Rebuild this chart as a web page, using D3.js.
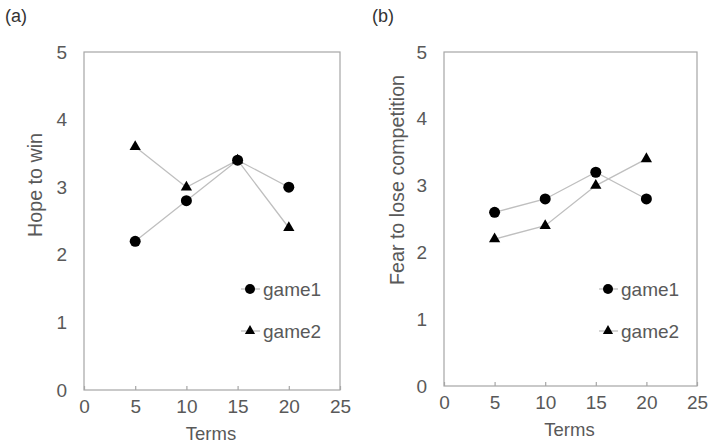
<!DOCTYPE html>
<html>
<head>
<meta charset="utf-8">
<script src="https://cdn.jsdelivr.net/npm/d3@7"></script>
<style>
  body { margin: 0; background: #fff; }
  svg { display: block; font-family: "Liberation Sans", Arial, sans-serif; }
</style>
</head>
<body>
<svg id="chart" width="709" height="447"></svg>
<script>
// Survey scores over terms, two games per panel
const terms = [5, 10, 15, 20];
const hopeGame1 = [2.2, 2.8, 3.4, 3.0];
const hopeGame2 = [3.6, 3.0, 3.4, 2.4];
const fearGame1 = [2.6, 2.8, 3.2, 2.8];
const fearGame2 = [2.2, 2.4, 3.0, 3.4];
const xTicks = [0, 5, 10, 15, 20, 25];
const yTicks = [0, 1, 2, 3, 4, 5];
const seriesNames = ["game1", "game2"];

const svg = d3.select("#chart");
const textColor = "#595959";
const frameColor = "#a6a6a6";
const lineColor = "#bfbfbf";
const fontFamily = "Liberation Sans, Arial, sans-serif";

function drawPanel(cfg) {
  const { tag, tagX, left, right, top, bottom, yTitle, yTitleX, yTitleY, s1, s2, legendX } = cfg;
  const x = d3.scaleLinear().domain([0, 25]).range([left, right]);
  const y = d3.scaleLinear().domain([0, 5]).range([bottom, top]);
  const g = svg.append("g");

  // panel tag
  g.append("text").attr("x", tagX).attr("y", 22)
    .attr("font-size", 18).attr("fill", "#333").text(tag);

  // plot frame
  g.append("rect").attr("x", left).attr("y", top)
    .attr("width", right - left).attr("height", bottom - top)
    .attr("fill", "none").attr("stroke", frameColor).attr("stroke-width", 1.2);

  // x axis: short inward ticks, labels below
  const xAxis = d3.axisBottom(x).tickValues(xTicks).tickFormat(d3.format("d"))
    .tickSizeInner(-4).tickSizeOuter(0).tickPadding(10);
  const xa = g.append("g").attr("transform", `translate(0,${bottom})`).call(xAxis);
  xa.select(".domain").remove();
  xa.selectAll(".tick line").attr("stroke", frameColor).attr("stroke-width", 1.2);
  xa.selectAll(".tick text").attr("font-size", 19).attr("fill", textColor)
    .attr("font-family", fontFamily);

  // y axis labels
  const yAxis = d3.axisLeft(y).tickValues(yTicks).tickFormat(d3.format("d"))
    .tickSizeInner(0).tickSizeOuter(0).tickPadding(17);
  const ya = g.append("g").attr("transform", `translate(${left},0)`).call(yAxis);
  ya.select(".domain").remove();
  ya.selectAll(".tick line").remove();
  ya.selectAll(".tick text").attr("font-size", 19).attr("fill", textColor)
    .attr("font-family", fontFamily);

  // axis titles
  g.append("text").attr("x", (left + right) / 2 - 1).attr("y", bottom + 50)
    .attr("text-anchor", "middle").attr("font-size", 18.5).attr("fill", textColor).text("Terms");
  g.append("text").attr("transform", `translate(${yTitleX},${yTitleY}) rotate(-90)`)
    .attr("text-anchor", "middle").attr("font-size", 19.7).attr("fill", textColor).text(yTitle);

  const line = d3.line().x((d, i) => x(terms[i])).y(d => y(d));
  [s1, s2].forEach(vals => {
    g.append("path").datum(vals).attr("d", line)
      .attr("fill", "none").attr("stroke", lineColor).attr("stroke-width", 1.3);
  });

  const tri = d3.symbol().type(d3.symbolTriangle).size(55);
  // circles (game1)
  g.selectAll(null).data(s1).enter().append("circle")
    .attr("cx", (d, i) => x(terms[i])).attr("cy", d => y(d)).attr("r", 5.5).attr("fill", "#000");
  // triangles (game2)
  g.selectAll(null).data(s2).enter().append("path")
    .attr("d", tri).attr("transform", (d, i) => `translate(${x(terms[i])},${y(d)})`).attr("fill", "#000");

  // legend
  const legY = [289, 331];
  seriesNames.forEach((name, k) => {
    const ly = legY[k];
    g.append("line").attr("x1", legendX - 9).attr("x2", legendX + 10)
      .attr("y1", ly).attr("y2", ly).attr("stroke", lineColor).attr("stroke-width", 1.3);
    if (k === 0) {
      g.append("circle").attr("cx", legendX).attr("cy", ly).attr("r", 5).attr("fill", "#000");
    } else {
      g.append("path").attr("d", d3.symbol().type(d3.symbolTriangle).size(45))
        .attr("transform", `translate(${legendX},${ly})`).attr("fill", "#000");
    }
    g.append("text").attr("x", legendX + 13).attr("y", ly + 7)
      .attr("font-size", 19).attr("fill", textColor).text(name);
  });
}

drawPanel({
  tag: "(a)", tagX: 5, left: 84, right: 340, top: 52, bottom: 390,
  yTitle: "Hope to win", yTitleX: 42, yTitleY: 185, s1: hopeGame1, s2: hopeGame2, legendX: 250
});
drawPanel({
  tag: "(b)", tagX: 372, left: 444, right: 697, top: 52, bottom: 386,
  yTitle: "Fear to lose competition", yTitleX: 404, yTitleY: 180, s1: fearGame1, s2: fearGame2, legendX: 608
});
</script>
</body>
</html>
